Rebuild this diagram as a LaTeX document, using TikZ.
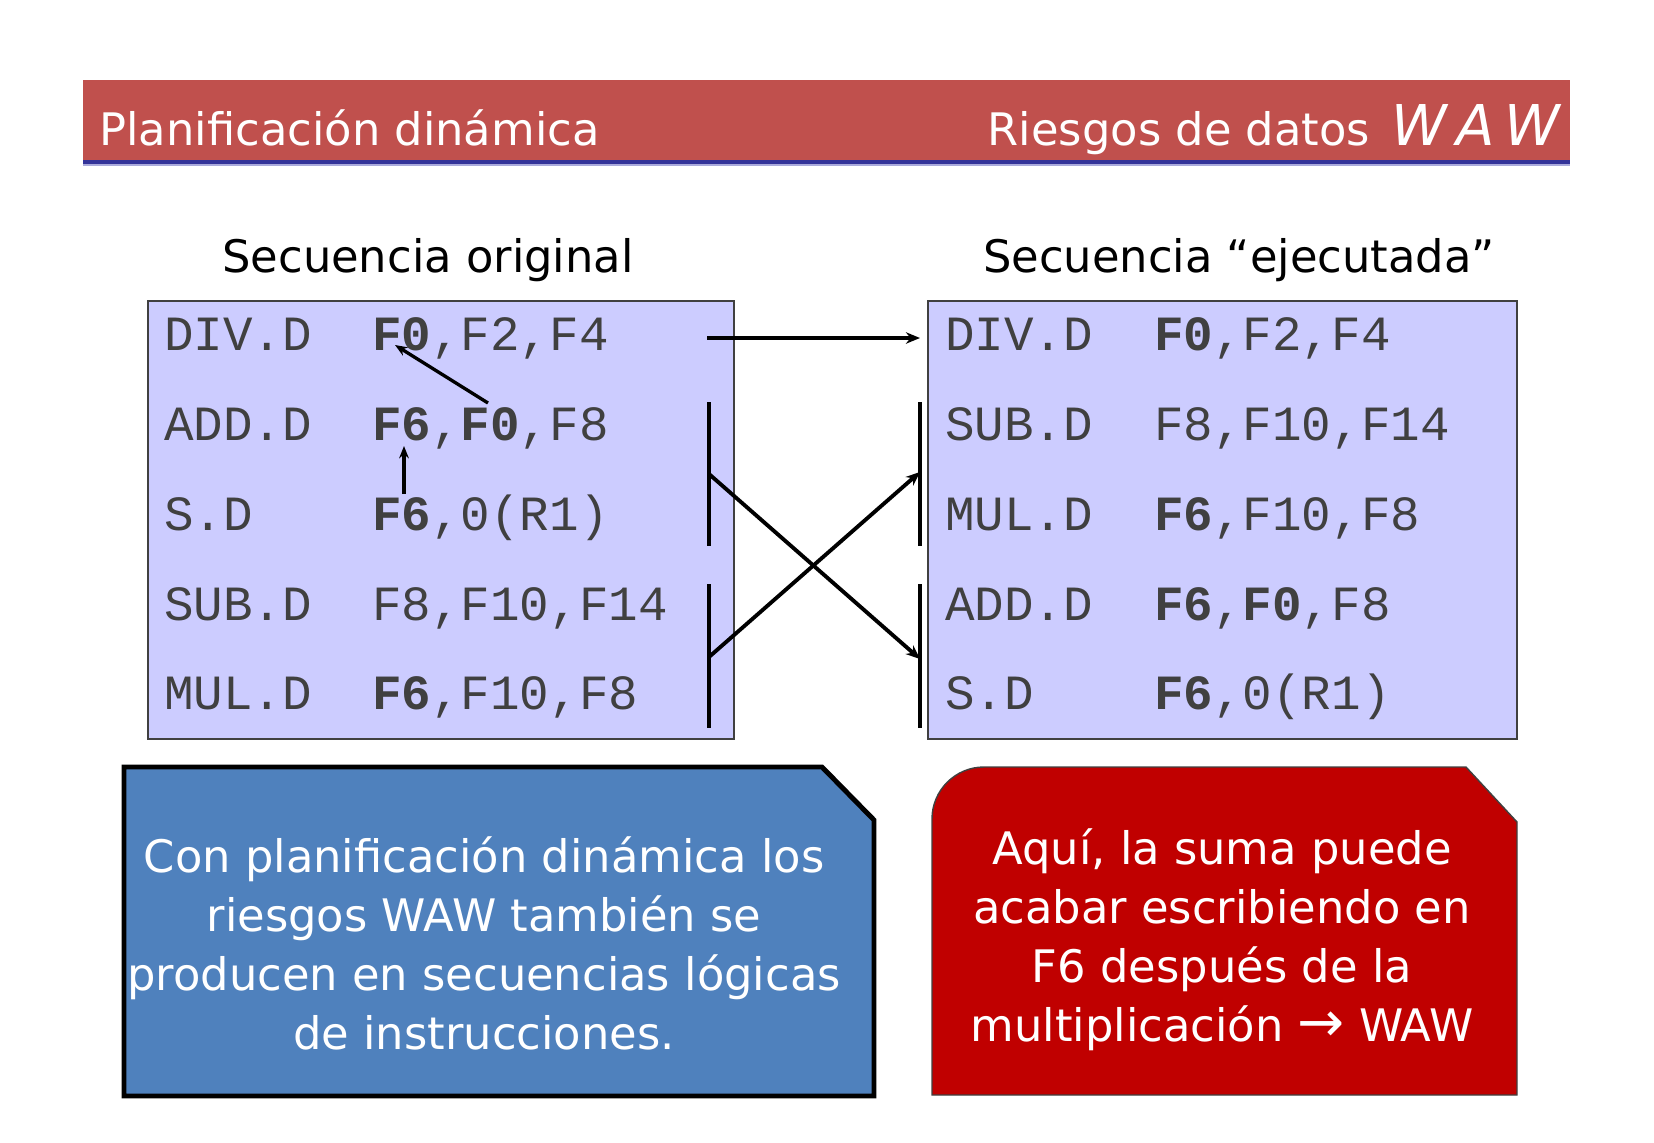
\documentclass[tikz,border=0pt]{standalone}
\usepackage{fontspec}
\setmainfont{DejaVu Sans}
\setmonofont{Liberation Mono}
\usetikzlibrary{arrows.meta,positioning,calc}
\definecolor{hdrred}  {RGB}{192,80,77}
\definecolor{hdrnavy} {RGB}{51,51,153}
\definecolor{hdrlav}  {RGB}{170,170,220}
\definecolor{seqfill} {RGB}{204,204,255}
\definecolor{noteblue}{RGB}{79,129,189}
\definecolor{notered} {RGB}{192,0,0}
\tikzset{
  % Instruction text (opcode / operands)
  instr/.style={anchor=base west, inner sep=0pt, text=black!75,
                font=\fontsize{28}{28}\selectfont\ttfamily},
  % Sequence box
  seqbox/.style={draw=black!75, line width=0.8pt, fill=seqfill},
  % Header and column titles
  hdrtxt/.style={inner sep=0pt, text=white, font=\fontsize{25.5}{30}\selectfont},
  coltitle/.style={anchor=base, inner sep=0pt, font=\fontsize{25.5}{30}\selectfont},
  % Text inside the notes
  notetxt/.style={align=center, inner sep=0pt, text=white,
                  font=\fontsize{25.5}{33.6}\selectfont},
  % Arrows and bars
  arr/.style={-{Stealth[length=8pt,width=6.5pt]}, line width=2.2pt},
  deparr/.style={-{Stealth[length=7pt,width=5.5pt]}, line width=1.9pt},
  seqbar/.style={line width=2.2pt},
}

\begin{document}
\begin{tikzpicture}[x=0.2mm,y=-0.2mm]
  \useasboundingbox (0,0) rectangle (1654,1143);

  % ── Header bar ─────────────────────────────────────────
  \fill[hdrred] (83,80) rectangle (1570,160);
  \fill[hdrnavy] (83,160) rectangle (1570,164);
  \fill[hdrlav] (83,164) rectangle (1570,166);
  \node[hdrtxt, anchor=base west] (hdrleft) at (99,145) {Planificación dinámica};
  \node[hdrtxt, anchor=base east] (hdrright) at (1560,145)
        {Riesgos de datos\hspace{12pt}{\fontsize{32}{32}\selectfont\itshape W\,A\,W}};

  % ── Column titles ──────────────────────────────────────
  \node[coltitle] (titleorig) at (428,272) {Secuencia original};
  \node[coltitle] (titleexec) at (1239,272) {Secuencia “ejecutada”};

  % ── Original sequence ──────────────────────────────────
  \draw[seqbox] (148,301) rectangle (734,739);
  \node[instr] (lop1) at (164,350) {DIV.D};
  \node[instr] (larg1) at (372,350) {\textbf{F0},F2,F4};
  \node[instr] (lop2) at (164,440) {ADD.D};
  \node[instr] (larg2) at (372,440) {\textbf{F6},\textbf{F0},F8};
  \node[instr] (lop3) at (164,530) {S.D};
  \node[instr] (larg3) at (372,530) {\textbf{F6},0(R1)};
  \node[instr] (lop4) at (164,620) {SUB.D};
  \node[instr] (larg4) at (372,620) {F8,F10,F14};
  \node[instr] (lop5) at (164,709) {MUL.D};
  \node[instr] (larg5) at (372,709) {\textbf{F6},F10,F8};

  % dependences inside the original sequence
  \coordinate (f0div) at (395,345);
  \coordinate (f0add) at (488,403);
  \coordinate (f6add) at (404,446);
  \coordinate (f6sd)  at (404,494);
  \draw[deparr] (f0add) -- (f0div);
  \draw[deparr] (f6sd) -- (f6add);

  % ── Executed sequence ──────────────────────────────────
  \draw[seqbox] (928,301) rectangle (1517,739);
  \node[instr] (rop1) at (945,350) {DIV.D};
  \node[instr] (rarg1) at (1154,350) {\textbf{F0},F2,F4};
  \node[instr] (rop2) at (945,440) {SUB.D};
  \node[instr] (rarg2) at (1154,440) {F8,F10,F14};
  \node[instr] (rop3) at (945,530) {MUL.D};
  \node[instr] (rarg3) at (1154,530) {\textbf{F6},F10,F8};
  \node[instr] (rop4) at (945,620) {ADD.D};
  \node[instr] (rarg4) at (1154,620) {\textbf{F6},\textbf{F0},F8};
  \node[instr] (rop5) at (945,709) {S.D};
  \node[instr] (rarg5) at (1154,709) {\textbf{F6},0(R1)};

  % ── Reordering arrows ──────────────────────────────────
  \coordinate (ldiv) at (707,338);
  \coordinate (rdiv) at (920,338);
  \coordinate (lbar1t) at (709,402);
  \coordinate (lbar1b) at (709,546);
  \coordinate (lbar2t) at (709,584);
  \coordinate (lbar2b) at (709,728);
  \coordinate (rbar1t) at (920,402);
  \coordinate (rbar1b) at (920,546);
  \coordinate (rbar2t) at (920,584);
  \coordinate (rbar2b) at (920,728);
  \coordinate (lcross1) at (709,474);
  \coordinate (lcross2) at (709,657);
  \coordinate (rcross1) at (920,472);
  \coordinate (rcross2) at (920,659);
  \draw[seqbar] (lbar1t) -- (lbar1b);
  \draw[seqbar] (lbar2t) -- (lbar2b);
  \draw[seqbar] (rbar1t) -- (rbar1b);
  \draw[seqbar] (rbar2t) -- (rbar2b);
  \draw[arr] (ldiv) -- (rdiv);
  \draw[arr] (lcross1) -- (rcross2);
  \draw[arr] (lcross2) -- (rcross1);

  % ── Notes ──────────────────────────────────────────────
  \draw[fill=noteblue, draw=black, line width=2.8pt]
        (124,767) -- (822,767) -- (874,820) -- (874,1096) -- (124,1096) -- cycle;
  \node[notetxt] (noteleft) at (484,943)
        {Con planificación dinámica los\\
         riesgos WAW también se\\
         producen en secuencias lógicas\\
         de instrucciones.};

  \draw[fill=notered, draw=black!75, line width=0.8pt]
        (932,1095) -- (932,819) arc[start angle=180, end angle=270, radius=52]
        -- (1466,767) -- (1517,822) -- (1517,1095) -- cycle;
  \node[notetxt] (noteright) at (1222,940)
        {Aquí, la suma puede\\
         acabar escribiendo en\\
         F6 después de la\\
         multiplicación {\fontsize{32}{32}\selectfont→} WAW};

\end{tikzpicture}
\end{document}
